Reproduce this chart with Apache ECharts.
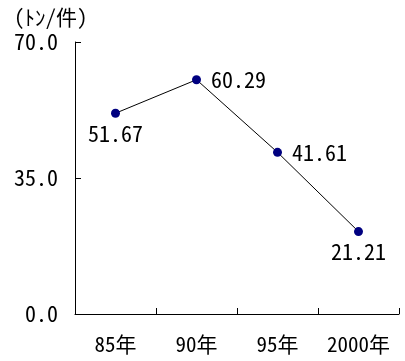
<!DOCTYPE html>
<html>
<head>
<meta charset="utf-8">
<script src="https://cdn.jsdelivr.net/npm/echarts@6/dist/echarts.min.js"></script>
<style>
  html, body { margin: 0; padding: 0; background: #fff; }
  #chart { width: 405px; height: 361px; }
</style>
</head>
<body>
<div id="chart"></div>
<script>
// Average amount per case, by survey year
const years = ['85年', '90年', '95年', '2000年'];
const tonsPerCase = [51.67, 60.29, 41.61, 21.21];
const labelSides = ['bottom', 'right', 'right', 'bottom'];
const unitLabel = '(ﾄﾝ/件)';

const FONT = '"Noto Sans Mono CJK JP", "Noto Sans CJK JP", sans-serif';

const chart = echarts.init(document.getElementById('chart'));
chart.setOption({
  backgroundColor: '#fff',
  animation: false,
  title: {
    text: unitLabel,
    left: 9,
    top: 2,
    textStyle: { fontFamily: FONT, fontSize: 21, fontWeight: 'normal', color: '#000' }
  },
  grid: { left: 75, right: 6, top: 42, bottom: 47 },
  xAxis: {
    type: 'category',
    data: years,
    boundaryGap: true,
    axisLine: { lineStyle: { color: '#000', width: 1 } },
    axisTick: { show: true, inside: true, length: 6, interval: 0, lineStyle: { color: '#000' } },
    axisLabel: { interval: 0, margin: 20, fontFamily: FONT, fontSize: 21, color: '#000' },
    splitLine: { show: false }
  },
  yAxis: {
    type: 'value',
    min: 0,
    max: 70,
    interval: 35,
    axisLine: { show: true, lineStyle: { color: '#000', width: 1 } },
    axisTick: { show: true, inside: true, length: 6, lineStyle: { color: '#000' } },
    axisLabel: {
      margin: 17,
      fontFamily: FONT,
      fontSize: 22,
      color: '#000',
      formatter: v => v.toFixed(1)
    },
    splitLine: { show: false }
  },
  series: [{
    type: 'line',
    data: tonsPerCase.map((v, i) => ({
      value: v,
      label: { position: labelSides[i], distance: labelSides[i] === 'right' ? 10 : 5 }
    })),
    symbol: 'circle',
    symbolSize: 9,
    itemStyle: { color: '#000080' },
    lineStyle: { color: '#000', width: 1 },
    label: {
      show: true,
      fontFamily: FONT,
      fontSize: 22,
      color: '#000',
      formatter: p => p.value.toFixed(2)
    }
  }]
});
</script>
</body>
</html>
